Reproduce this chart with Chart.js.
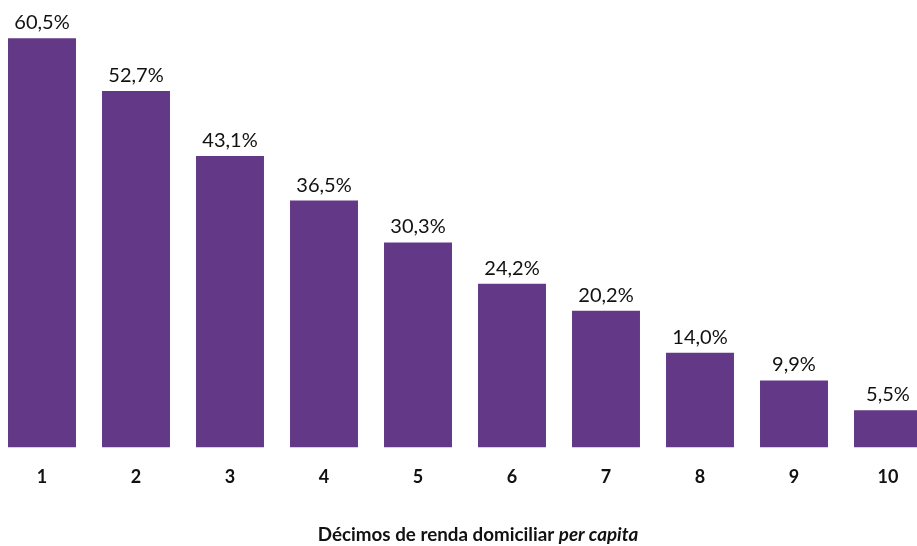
<!doctype html>
<html lang="pt">
  <head>
    <meta charset="utf-8">
    <title>Décimos de renda</title>
    <script src="https://cdn.jsdelivr.net/npm/chart.js"></script>
    <style>
      html, body { margin: 0; padding: 0; background: #fff; overflow: hidden; }
      .chart-box { position: absolute; left: -5px; top: 0; width: 940px; height: 546px; }
    </style>
  </head>
  <body>
    <div class="chart-box">
      <canvas id="decimosChart"></canvas>
    </div>
    <script>
      const decimos = ['1', '2', '3', '4', '5', '6', '7', '8', '9', '10'];
      const percentuais = [60.5, 52.7, 43.1, 36.5, 30.3, 24.2, 20.2, 14.0, 9.9, 5.5];
      const tituloEixo = ['Décimos de renda domiciliar ', 'per capita'];

      const fonte = 'Lato, "Noto Sans", sans-serif';

      // rótulos acima das barras, formato brasileiro
      const rotulos = {
        id: 'rotulos',
        afterDatasetsDraw(chart) {
          const ctx = chart.ctx;
          const meta = chart.getDatasetMeta(0);
          ctx.save();
          ctx.font = '20px ' + fonte;
          ctx.fillStyle = '#111';
          ctx.textAlign = 'center';
          ctx.textBaseline = 'alphabetic';
          meta.data.forEach((bar, i) => {
            const txt = percentuais[i].toFixed(1).replace('.', ',') + '%';
            ctx.fillText(txt, bar.x, bar.y - 9);
          });
          ctx.restore();
        }
      };

      // título do eixo com "per capita" em itálico
      const tituloX = {
        id: 'tituloX',
        afterDraw(chart) {
          const ctx = chart.ctx;
          ctx.save();
          ctx.fillStyle = '#111';
          ctx.textBaseline = 'alphabetic';
          const f1 = 'bold 18.8px ' + fonte;
          const f2 = 'italic bold 18.8px ' + fonte;
          ctx.font = f1;
          const w1 = ctx.measureText(tituloEixo[0]).width;
          ctx.font = f2;
          const w2 = ctx.measureText(tituloEixo[1]).width;
          const x0 = 483 - (w1 + w2) / 2;
          ctx.font = f1;
          ctx.fillText(tituloEixo[0], x0, 541);
          ctx.font = f2;
          ctx.fillText(tituloEixo[1], x0 + w1, 541);
          ctx.restore();
        }
      };

      new Chart(document.getElementById('decimosChart'), {
        type: 'bar',
        data: {
          labels: decimos,
          datasets: [{
            data: percentuais,
            backgroundColor: '#633886',
            categoryPercentage: 1,
            barPercentage: 0.723
          }]
        },
        options: {
          responsive: true,
          maintainAspectRatio: false,
          animation: false,
          layout: { padding: { top: 1, bottom: 47, left: 0, right: 0 } },
          plugins: { legend: { display: false }, tooltip: { enabled: false } },
          scales: {
            x: {
              grid: { display: false },
              border: { display: false },
              ticks: { color: '#111', padding: 11, font: { family: fonte, size: 18, weight: 'bold' } }
            },
            y: {
              display: false,
              min: 0,
              max: 66
            }
          }
        },
        plugins: [rotulos, tituloX]
      });
    </script>
  </body>
</html>
